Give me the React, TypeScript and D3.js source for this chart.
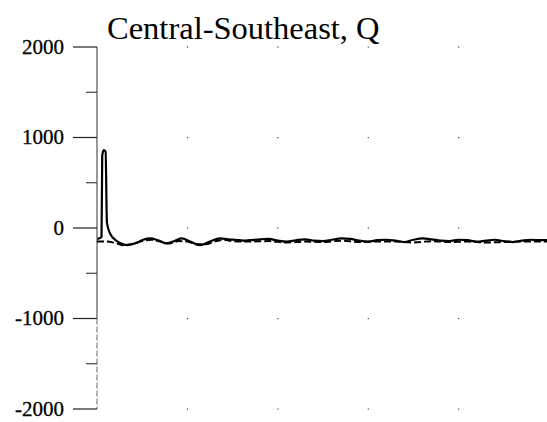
import React, { useEffect, useRef } from 'react';
import * as d3 from 'd3';

// time in plot units (one unit per dotted grid column)
const solidTime = [
  0.005, 0.033, 0.05, 0.058, 0.075, 0.095, 0.11, 0.144, 0.188, 0.254,
  0.332, 0.42, 0.51, 0.586, 0.675, 0.774, 0.863, 0.94, 1.03, 1.14,
  1.25, 1.36, 1.45, 1.53, 1.62, 1.69, 1.8, 1.9, 2.0, 2.1,
  2.2, 2.3, 2.4, 2.5, 2.6, 2.7, 2.8, 2.9, 3.0, 3.1,
  3.2, 3.3, 3.4, 3.5, 3.6, 3.7, 3.8, 3.9, 4.0, 4.1,
  4.2, 4.3, 4.4, 4.5, 4.6, 4.7, 4.8, 4.9, 4.98,
];
const solidValues = [
  -120, -110, -100, 800, 860, 845, 60, -60, -120, -165,
  -190, -170, -130, -115, -135, -170, -140, -115, -150, -190,
  -150, -115, -125, -130, -140, -135, -125, -120, -140, -150,
  -135, -125, -140, -145, -130, -115, -120, -140, -150, -135,
  -130, -140, -155, -130, -115, -125, -140, -145, -130, -135,
  -150, -140, -130, -145, -155, -140, -130, -135, -135,
];

const dashedTime = [
  0.0, 0.1, 0.2, 0.3, 0.4, 0.5, 0.6, 0.7, 0.8, 0.9,
  1.0, 1.1, 1.2, 1.3, 1.4, 1.5, 1.7, 1.9, 2.1, 2.3,
  2.5, 2.7, 2.9, 3.1, 3.3, 3.5, 3.7, 3.9, 4.1, 4.3,
  4.5, 4.7, 4.98,
];
const dashedValues = [
  -150, -150, -165, -190, -175, -145, -130, -150, -170, -145,
  -150, -180, -180, -150, -130, -145, -150, -145, -160, -150,
  -155, -140, -155, -150, -150, -160, -145, -155, -150, -160,
  -155, -150, -150,
];

const majorTicks = [2000, 1000, 0, -1000, -2000];
const minorTicks = [1500, 500, -500, -1500];
const gridColumns = [1, 2, 3, 4, 5];
const title = 'Central-Southeast, Q';

const width = 547;
const height = 422;

const App: React.FC = () => {
  const svgRef = useRef<SVGSVGElement>(null);

  useEffect(() => {
    if (!svgRef.current) return;
    const svg = d3.select(svgRef.current);
    svg.selectAll('*').remove();

    const axisX = 97;
    const xScale = d3.scaleLinear().domain([0, 5]).range([axisX, 549]);
    const yScale = d3.scaleLinear().domain([-2000, 2000]).range([409, 47]);

    // Title
    svg.append('text')
      .attr('x', 107)
      .attr('y', 39)
      .style('font-family', '"Liberation Serif", "Times New Roman", serif')
      .style('font-size', '32.5px')
      .style('fill', '#000')
      .text(title);

    // Dotted grid
    majorTicks.forEach(v => {
      gridColumns.forEach(c => {
        svg.append('rect')
          .attr('x', xScale(c) - 0.5)
          .attr('y', yScale(v) - 0.5)
          .attr('width', 1.2)
          .attr('height', 1.2)
          .attr('fill', '#444');
      });
    });

    // Axis line: solid down to -1000, dashed below
    svg.append('line')
      .attr('x1', axisX).attr('x2', axisX)
      .attr('y1', yScale(2000)).attr('y2', yScale(-1000))
      .attr('stroke', '#555').attr('stroke-width', 1.2);
    svg.append('line')
      .attr('x1', axisX).attr('x2', axisX)
      .attr('y1', yScale(-1000)).attr('y2', yScale(-2000))
      .attr('stroke', '#666').attr('stroke-width', 1)
      .attr('stroke-dasharray', '6,2');

    // Ticks
    svg.selectAll('.major')
      .data(majorTicks)
      .enter()
      .append('line')
      .attr('x1', 73).attr('x2', axisX)
      .attr('y1', d => yScale(d)).attr('y2', d => yScale(d))
      .attr('stroke', '#222').attr('stroke-width', 1.2);

    svg.selectAll('.minor')
      .data(minorTicks)
      .enter()
      .append('line')
      .attr('x1', 86).attr('x2', axisX)
      .attr('y1', d => yScale(d)).attr('y2', d => yScale(d))
      .attr('stroke', '#333').attr('stroke-width', 1.1);

    svg.selectAll('.tick-label')
      .data(majorTicks)
      .enter()
      .append('text')
      .attr('x', 64)
      .attr('y', d => yScale(d))
      .attr('dy', '0.33em')
      .attr('text-anchor', 'end')
      .style('font-family', '"Liberation Serif", "Times New Roman", serif')
      .style('font-size', '21px')
      .style('fill', '#000')
      .style('stroke', '#000')
      .style('stroke-width', 0.3)
      .text(d => String(d));

    const line = d3.line<[number, number]>()
      .x(d => xScale(d[0]))
      .y(d => yScale(d[1]))
      .curve(d3.curveMonotoneX);

    const dashedData = dashedTime.map((t, i) => [t, dashedValues[i]] as [number, number]);
    const solidData = solidTime.map((t, i) => [t, solidValues[i]] as [number, number]);

    svg.append('path')
      .datum(dashedData)
      .attr('d', line)
      .attr('fill', 'none')
      .attr('stroke', '#000')
      .attr('stroke-width', 2)
      .attr('stroke-dasharray', '7,3');

    svg.append('path')
      .datum(solidData)
      .attr('d', line)
      .attr('fill', 'none')
      .attr('stroke', '#000')
      .attr('stroke-width', 2.2)
      .attr('stroke-linejoin', 'round');
  }, []);

  return (
    <svg
      ref={svgRef}
      width={width}
      height={height}
      style={{ position: 'absolute', left: 0, top: 0, background: '#fff' }}
    />
  );
};

export default App;
